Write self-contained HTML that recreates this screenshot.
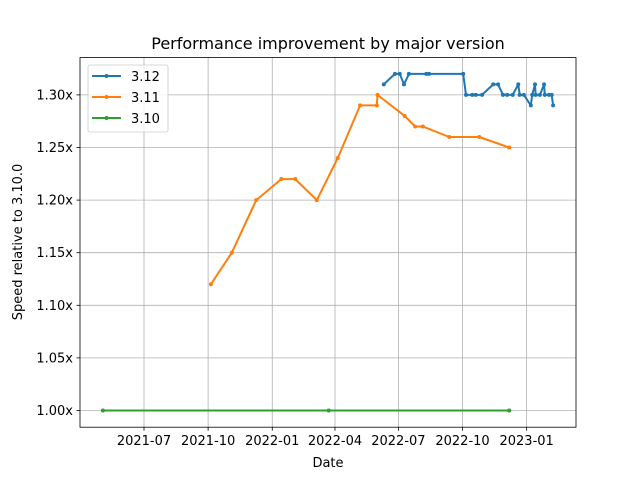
<!DOCTYPE html>
<html><head><meta charset="utf-8"><style>
html,body{margin:0;padding:0;background:#fff;}
svg{display:block;font-family:"DejaVu Sans","Liberation Sans",sans-serif;}
</style></head><body>
<svg id="chart" width="640" height="480" viewBox="0 0 640 480"></svg>
<script>
const tickLabels = ["2021-07","2021-10","2022-01","2022-04","2022-07","2022-10","2023-01"];
const yTicks = [1.00,1.05,1.10,1.15,1.20,1.25,1.30];
const seriesNames = ["3.12","3.11","3.10"];
const dates312 = ["2022-06-10","2022-06-26","2022-07-03","2022-07-09","2022-07-16","2022-08-10","2022-08-14","2022-10-02","2022-10-06","2022-10-15","2022-10-20","2022-10-29","2022-11-14","2022-11-21","2022-11-28","2022-12-04","2022-12-12","2022-12-20","2022-12-22","2022-12-28","2023-01-07","2023-01-09","2023-01-13","2023-01-14","2023-01-20","2023-01-26","2023-01-27","2023-02-02","2023-02-06","2023-02-08"];
const values312 = [1.31,1.32,1.32,1.31,1.32,1.32,1.32,1.32,1.30,1.30,1.30,1.30,1.31,1.31,1.30,1.30,1.30,1.31,1.30,1.30,1.29,1.30,1.31,1.30,1.30,1.31,1.30,1.30,1.30,1.29];
const dates311 = ["2021-10-05","2021-11-04","2021-12-09","2022-01-14","2022-02-03","2022-03-06","2022-04-05","2022-05-07","2022-05-31","2022-06-01","2022-07-10","2022-07-25","2022-08-05","2022-09-12","2022-10-25","2022-12-07"];
const values311 = [1.12,1.15,1.20,1.22,1.22,1.20,1.24,1.29,1.29,1.30,1.28,1.27,1.27,1.26,1.26,1.25];
const dates310 = ["2021-05-03","2022-03-23","2022-12-07"];
const values310 = [1.00,1.00,1.00];

const NS="http://www.w3.org/2000/svg";
const svg=document.getElementById('chart');
const L=80,R=576,T=57.6,B=427.2;
const t0=Date.UTC(2021,6,1);
function xs(d){const p=d.split('-').map(Number);const t=Date.UTC(p[0],p[1]-1,p[2]||1);return 144+(t-t0)/86400000*0.697;}
function ys(v){return 410.5-(v-1)*1052;}
function mk(tag,attrs,parent){const e=document.createElementNS(NS,tag);for(const k in attrs)e.setAttribute(k,attrs[k]);(parent||svg).appendChild(e);return e;}

tickLabels.forEach(lb=>{const x=xs(lb);
 const g=mk('line',{x1:x,x2:x,y1:T,y2:B,stroke:'#b0b0b0','stroke-width':0.8});
 
 
 mk('line',{x1:x,x2:x,y1:B,y2:B+3.5,stroke:'#000','stroke-width':0.8});
 const t=mk('text',{x:x,y:B+18,'text-anchor':'middle','font-size':13});t.textContent=lb;
 
 
});
yTicks.forEach(v=>{const y=ys(v);
 const g=mk('line',{x1:L,x2:R,y1:y,y2:y,stroke:'#b0b0b0','stroke-width':0.8});
 
 
 mk('line',{x1:L-3.5,x2:L,y1:y,y2:y,stroke:'#000','stroke-width':0.8});
 const t=mk('text',{x:L-7,y:y+4.5,'text-anchor':'end','font-size':13});t.textContent=v.toFixed(2)+'x';
 
 
});

const colors=['#1f77b4','#ff7f0e','#2ca02c'];
const data=[[dates312,values312],[dates311,values311],[dates310,values310]];
data.forEach((s,i)=>{
 const pts=s[0].map((d,j)=>xs(d).toFixed(1)+','+ys(s[1][j]).toFixed(1)).join(' ');
 const pl=mk('polyline',{points:pts,fill:'none',stroke:colors[i],'stroke-width':2,'stroke-linejoin':'round'});
 
 
 s[0].forEach((d,j)=>{const c=mk('circle',{cx:xs(d),cy:ys(s[1][j]),r:2,fill:colors[i]});
  
  });
});

const fr=mk('rect',{x:L,y:T,width:R-L,height:B-T,fill:'none',stroke:'#000','stroke-width':0.8});



const title=mk('text',{x:328,y:49,'text-anchor':'middle','font-size':16});title.textContent='Performance improvement by major version';


const xl=mk('text',{x:328,y:467,'text-anchor':'middle','font-size':13});xl.textContent='Date';


const yl=mk('text',{x:0,y:0,'text-anchor':'middle','font-size':13,transform:'translate(22,242) rotate(-90)'});yl.textContent='Speed relative to 3.10.0';



const lg=mk('rect',{x:88,y:65,width:80,height:67,rx:2,fill:'#fff','fill-opacity':0.8,stroke:'#ccc','stroke-width':0.8});


seriesNames.forEach((n,i)=>{const y=76+i*21;
 const l=mk('line',{x1:92,x2:121,y1:y,y2:y,stroke:colors[i],'stroke-width':2});
 
 
 mk('circle',{cx:106.5,cy:y,r:2,fill:colors[i]});
 const t=mk('text',{x:131,y:y+5,'font-size':13});t.textContent=n;
 
 
});
</script>
</body></html>
